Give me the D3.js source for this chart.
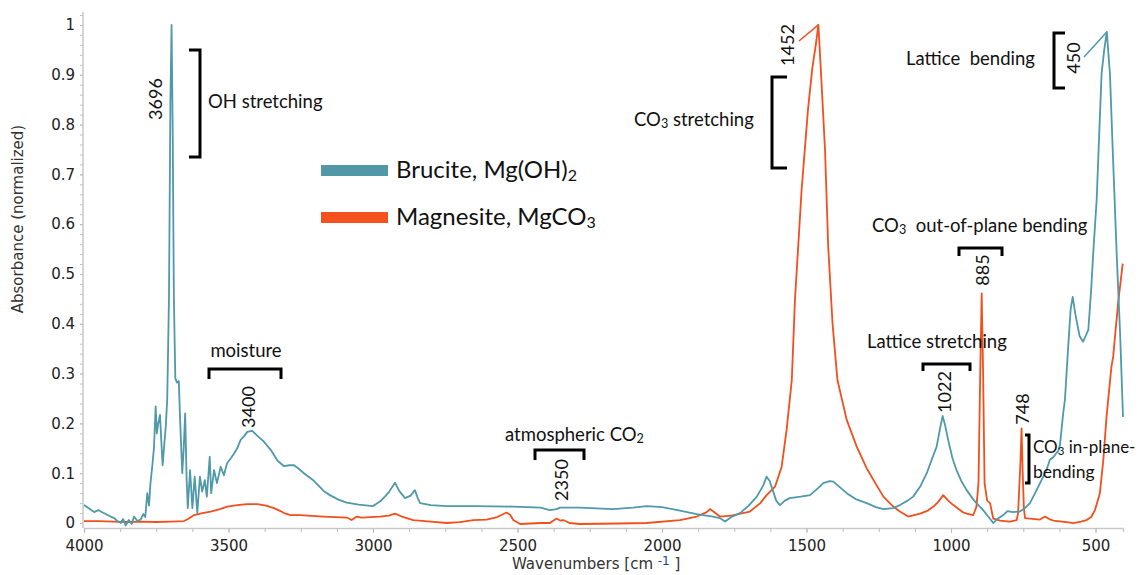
<!DOCTYPE html>
<html><head><meta charset="utf-8">
<script src="https://cdn.jsdelivr.net/npm/d3@7"></script>
<style>body{margin:0;background:#fff}svg{display:block}</style>
</head><body>
<svg id="c" width="1140" height="575"></svg>
<script>
// ---------- data ----------
const bruciteWn = [4000,3985,3965,3950,3942,3925,3908,3895,3885,3873,3865,3856,3845,3835,3827,3815,3804,3795,3788,3781,3775,3770,3764,3758,3752,3748,3743,3737,3733,3728,3722,3717,3712,3706,3701,3697,3693,3689,3684,3678,3672,3667,3660,3655,3650,3645,3641,3633,3625,3617,3608,3599,3591,3582,3575,3565,3560,3550,3540,3527,3516,3505,3492,3480,3470,3458,3445,3435,3418,3400,3380,3354,3330,3308,3290,3273,3255,3239,3207,3170,3149,3120,3091,3050,3000,2976,2959,2945,2924,2910,2889,2870,2855,2845,2837,2800,2745,2650,2516,2420,2388,2365,2353,2284,2170,2100,2053,2000,1938,1880,1824,1800,1782,1760,1730,1700,1672,1650,1638,1628,1621,1605,1592,1575,1558,1520,1488,1460,1442,1420,1407,1385,1361,1330,1292,1260,1234,1200,1177,1150,1131,1105,1084,1065,1050,1038,1029,1020,1010,995,981,965,946,920,889,870,854,840,819,805,786,762,744,727,704,692,670,658,646,640,629,623,612,606,594,586,579,570,555,543,537,525,515,508,496,485,479,470,461,450,441,427,415,405];
const bruciteAbs = [0.036,0.030,0.022,0.026,0.023,0.018,0.013,0.010,0.004,0.000,0.008,-0.005,0.006,-0.002,0.013,0.004,0.007,0.018,0.012,0.060,0.035,0.080,0.113,0.150,0.234,0.180,0.200,0.217,0.170,0.116,0.160,0.193,0.250,0.450,0.850,1.000,0.780,0.450,0.290,0.282,0.285,0.200,0.100,0.150,0.220,0.090,0.030,0.106,0.030,0.093,0.020,0.093,0.063,0.086,0.053,0.133,0.060,0.106,0.080,0.113,0.096,0.120,0.130,0.140,0.150,0.167,0.175,0.183,0.185,0.175,0.165,0.147,0.125,0.114,0.116,0.116,0.108,0.100,0.086,0.064,0.056,0.047,0.041,0.037,0.034,0.043,0.053,0.062,0.081,0.065,0.050,0.055,0.066,0.050,0.040,0.036,0.034,0.034,0.033,0.031,0.026,0.028,0.031,0.031,0.028,0.031,0.034,0.032,0.025,0.018,0.013,0.010,0.003,0.012,0.020,0.035,0.053,0.075,0.093,0.085,0.073,0.045,0.036,0.045,0.050,0.053,0.056,0.070,0.080,0.084,0.083,0.072,0.060,0.048,0.040,0.032,0.028,0.030,0.036,0.045,0.053,0.075,0.100,0.130,0.153,0.190,0.215,0.195,0.167,0.130,0.106,0.085,0.066,0.045,0.026,0.012,0.000,0.008,0.016,0.024,0.022,0.023,0.030,0.040,0.066,0.080,0.106,0.127,0.132,0.137,0.145,0.157,0.220,0.247,0.360,0.430,0.454,0.420,0.375,0.364,0.372,0.388,0.470,0.542,0.650,0.816,0.903,0.950,0.986,0.900,0.756,0.542,0.380,0.213];

const magnesiteWn = [4000,3950,3900,3850,3800,3750,3700,3654,3640,3619,3590,3562,3530,3504,3470,3435,3400,3370,3343,3320,3308,3285,3253,3170,3091,3074,3056,3040,2976,2945,2924,2900,2861,2800,2745,2700,2653,2607,2570,2538,2525,2515,2491,2420,2388,2365,2352,2342,2320,2284,2150,2053,1938,1880,1845,1834,1820,1800,1760,1696,1660,1638,1609,1586,1569,1551,1540,1517,1495,1480,1468,1459,1451,1436,1425,1410,1393,1361,1326,1292,1260,1234,1200,1177,1148,1107,1080,1061,1045,1027,1010,992,960,946,923,912,905,899,894,889,884,875,865,854,830,796,773,768,760,756,752,748,744,692,675,660,646,600,577,550,531,515,502,485,473,462,445,439,422,406];
const magnesiteAbs = [0.004,0.004,0.003,0.002,0.003,0.002,0.003,0.004,0.008,0.016,0.020,0.023,0.028,0.033,0.036,0.038,0.038,0.035,0.030,0.024,0.020,0.016,0.016,0.013,0.011,0.006,0.013,0.011,0.013,0.015,0.019,0.013,0.006,0.003,0.000,0.002,0.006,0.007,0.012,0.021,0.016,0.006,-0.002,0.000,0.000,0.009,0.005,0.006,0.000,-0.002,-0.001,0.000,0.006,0.013,0.022,0.028,0.022,0.013,0.015,0.023,0.040,0.056,0.073,0.113,0.187,0.287,0.448,0.669,0.830,0.913,0.960,1.000,0.916,0.749,0.555,0.400,0.287,0.207,0.153,0.110,0.078,0.053,0.033,0.023,0.013,0.019,0.025,0.033,0.042,0.056,0.045,0.036,0.022,0.019,0.016,0.033,0.080,0.300,0.461,0.300,0.080,0.045,0.040,0.009,0.005,0.003,0.006,0.020,0.120,0.190,0.100,0.030,0.010,0.007,0.013,0.008,0.005,0.002,0.000,0.003,0.006,0.012,0.026,0.060,0.127,0.213,0.314,0.334,0.441,0.521];

const seriesNames = ["Brucite, Mg(OH)", "Magnesite, MgCO"];
const seriesSubs = ["2", "3"];
const xTickValues = [4000,3500,3000,2500,2000,1500,1000,500];
const xTickLabels = ["4000","3500","3000","2500","2000","1500","1000","500"];
const yTickValues = [0,0.1,0.2,0.3,0.4,0.5,0.6,0.7,0.8,0.9,1];
const yTickLabels = ["0","0.1","0.2","0.3","0.4","0.5","0.6","0.7","0.8","0.9","1"];
const peakLabels = ["3696","3400","2350","1452","1022","885","748","450"];

// ---------- drawing ----------
const svg = d3.select("#c");
const teal = "#4f99aa", orange = "#f24f1c";
const x = d3.scaleLinear().domain([4000, 405]).range([84, 1123]);
const y = d3.scaleLinear().domain([-0.01, 1.026]).range([528, 12]);

// axes
const minorX = d3.range(4000, 404, -125);
svg.append("g").attr("transform","translate(0,528)")
  .call(d3.axisBottom(x).tickValues(minorX).tickSize(4).tickFormat(""))
  .call(g=>{g.select(".domain").attr("stroke","#c9c9c9").attr("stroke-width",1.5);g.selectAll("line").attr("stroke","#bdbdbd");});
svg.append("g").attr("transform","translate(0,528)")
  .call(d3.axisBottom(x).tickValues(xTickValues).tickSize(5).tickFormat((d,i)=>xTickLabels[i]).tickPadding(7))
  .call(g=>{g.select(".domain").remove();g.selectAll("line").attr("stroke","#bdbdbd");
    g.selectAll("text").attr("font-family","DejaVu Sans").attr("font-size",15).attr("fill","#222");});

const minorY = d3.range(0, 1.021, 0.02);
svg.append("g").attr("transform","translate(83,0)")
  .call(d3.axisLeft(y).tickValues(minorY).tickSize(3).tickFormat(""))
  .call(g=>{g.select(".domain").attr("stroke","#c9c9c9").attr("stroke-width",1.5).attr("d","M0,528V12");g.selectAll("line").attr("stroke","#c4c4c4");});
svg.append("g").attr("transform","translate(83,0)")
  .call(d3.axisLeft(y).tickValues(yTickValues).tickSize(3).tickFormat((d,i)=>yTickLabels[i]).tickPadding(5))
  .call(g=>{g.select(".domain").remove();g.selectAll("line").attr("stroke","#bdbdbd");
    g.selectAll("text").attr("font-family","DejaVu Sans").attr("font-size",15).attr("fill","#222");});

// axis titles
svg.append("text").attr("transform","translate(23,219) rotate(-90)").attr("text-anchor","middle")
  .attr("font-family","DejaVu Sans").attr("font-size",15).attr("fill","#333").text("Absorbance (normalized)");
const xt = svg.append("text").attr("x",512).attr("y",569).attr("font-family","DejaVu Sans").attr("font-size",15).attr("fill","#333");
xt.append("tspan").text("Wavenumbers [cm\u00a0");
xt.append("tspan").attr("dy",-4).attr("font-size",12).attr("fill","#23408e").text("-1");
xt.append("tspan").attr("dy",4).text("\u00a0]");

// lines
const line = d3.line().x(d=>x(d[0])).y(d=>y(d[1]));
svg.append("path").datum(magnesiteWn.map((w,i)=>[w,magnesiteAbs[i]]))
  .attr("d",line).attr("fill","none").attr("stroke",orange).attr("stroke-width",1.8).attr("stroke-linejoin","round");
svg.append("path").datum(bruciteWn.map((w,i)=>[w,bruciteAbs[i]]))
  .attr("d",line).attr("fill","none").attr("stroke",teal).attr("stroke-width",1.8).attr("stroke-linejoin","round");

// legend
const lg = [[165,178],[212,225]];
lg.forEach((l,i)=>{
  svg.append("rect").attr("x",321).attr("y",l[0]).attr("width",67).attr("height",11).attr("fill",i?"#f4511e":"#5098a8");
  const t = svg.append("text").attr("x",396).attr("y",l[1]).attr("font-family","Lato").attr("font-size",24).attr("fill","#111");
  t.append("tspan").text(seriesNames[i]);
  t.append("tspan").attr("font-size",16).attr("dy",3).text(seriesSubs[i]);
});

// annotations
const FS = 18.5;
const A = svg.append("g").attr("font-family","Lato").attr("fill","#111");
function label(txt, px, py, anchor, fs){ return A.append("text").attr("x",px).attr("y",py).attr("font-size",fs||FS).attr("text-anchor",anchor||"start").text(txt); }
function sublabel(parts, px, py, fs){
  fs = fs||FS;
  const t = A.append("text").attr("x",px).attr("y",py).attr("font-size",fs);
  parts.forEach(p=>{ if(p[1]) t.append("tspan").attr("font-size",fs*0.68).attr("dy",2).text(p[0]); else t.append("tspan").attr("dy",p[2]||0).text(p[0]); });
  return t;
}
function vnum(i, cx, cy){ A.append("text").attr("transform",`translate(${cx},${cy}) rotate(-90)`).attr("text-anchor","middle").attr("dominant-baseline","central").attr("font-size",18).text(peakLabels[i]); }
function br(d){ svg.append("path").attr("d",d).attr("fill","none").attr("stroke","#000").attr("stroke-width",3); }

// OH stretching
vnum(0, 155, 99);
br("M189,50H200V157H189");
label("OH stretching", 208, 108);
// moisture
label("moisture", 246, 357, "middle");
br("M209,379V369H281V379");
vnum(1, 248, 407);
// atmospheric CO2
sublabel([["atmospheric CO"],["2",true]], 505, 441);
br("M535,460V450H584V460");
vnum(2, 561, 480);
// CO3 stretching
vnum(3, 787, 45);
svg.append("line").attr("x1",799).attr("y1",41).attr("x2",x(1459)).attr("y2",y(1.0)).attr("stroke",orange).attr("stroke-width",1.5);
br("M787,77H772V168H787");
sublabel([["CO"],["3",true],[" stretching",false,-2]], 634, 126);
// Lattice bending
label("Lattice\u00a0 bending", 906, 65);
br("M1065,33H1054V88H1065");
vnum(7, 1073, 58);
svg.append("line").attr("x1",1084).attr("y1",57).attr("x2",x(461)).attr("y2",y(0.986)).attr("stroke",teal).attr("stroke-width",1.5);
// CO3 out-of-plane bending
sublabel([["CO"],["3",true],["\u00a0 out-of-plane bending",false,-2]], 872, 232);
br("M959,256V248H1002V256");
vnum(5, 982, 270);
// Lattice stretching
label("Lattice stretching", 867, 348);
br("M923,371V364H970V371");
vnum(4, 944, 392);
// CO3 in-plane bending
vnum(6, 1022, 409);
br("M1025,435H1029V483H1025");
sublabel([["CO"],["3",true],[" in-plane-",false,-2]], 1033, 453, 17);
label("bending", 1033, 478, "start", 17.5);
</script>
</body></html>
